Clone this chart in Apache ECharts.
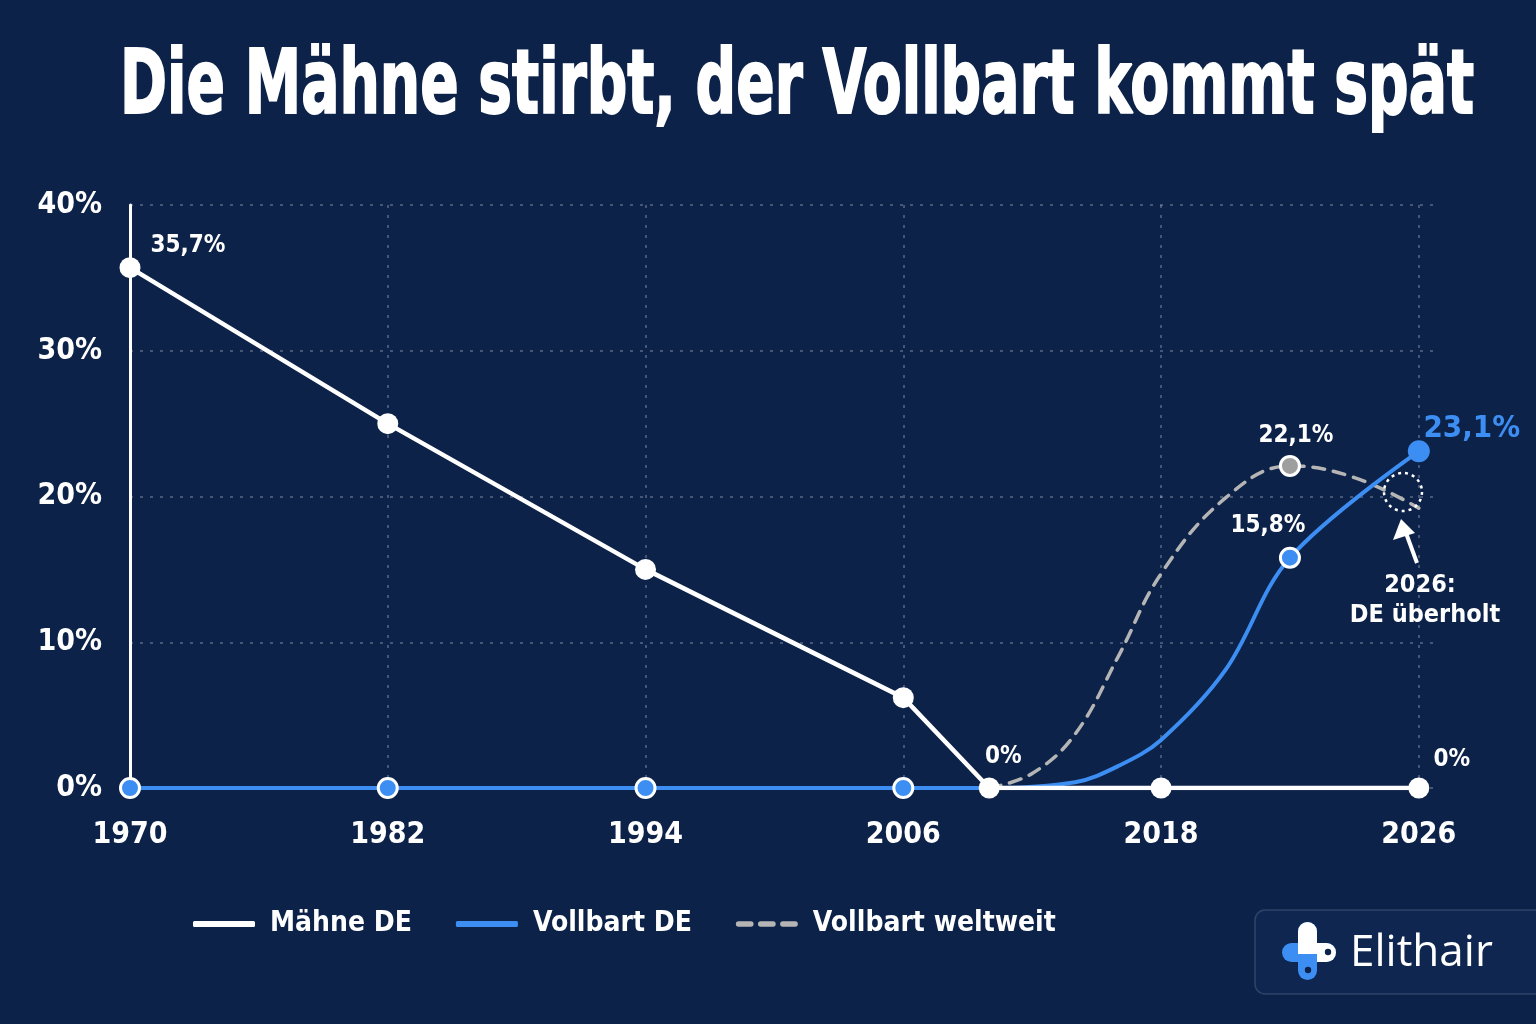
<!DOCTYPE html>
<html><head><meta charset="utf-8">
<script src="https://cdn.jsdelivr.net/npm/echarts@6/dist/echarts.min.js"></script>
<style>html,body{margin:0;padding:0;background:#0c2249;}#c{width:1536px;height:1024px;}</style>
</head><body><div id="c"></div>
<script>
const FONT = '"Liberation Sans Narrow","DejaVu Sans Condensed",sans-serif';
const title = 'Die Mähne stirbt, der Vollbart kommt spät';
const tickYears = [1970, 1982, 1994, 2006, 2018, 2026];
const yTicks = [0, 10, 20, 30, 40];
const seriesNames = ['Mähne DE', 'Vollbart DE', 'Vollbart weltweit'];
const maehneYears = [1970, 1982, 1994, 2006, 2010, 2018, 2026];
const maehneValues = [35.7, 25.0, 15.0, 6.2, 0, 0, 0];
const vollbartYears = [1970, 1982, 1994, 2006, 2010, 2014, 2016, 2018, 2020, 2022, 2026];
const vollbartValues = [0, 0, 0, 0, 0, 0.4, 1.5, 3.3, 8.1, 15.8, 23.1];
const weltYears = [2010, 2012, 2014, 2016, 2018, 2020, 2022, 2024, 2026];
const weltValues = [0, 1.0, 3.7, 9.0, 14.7, 19.9, 22.1, 21.3, 19.2];
const markedVollbart = [1970, 1982, 1994, 2006, 2022, 2026];
const markedWelt = [2022];
const noteText = ['2026:', 'DE überholt'];
const brand = 'Elithair';

// piecewise position of a year on the (evenly spaced) tick scale
function pos(y) {
  for (let i = 0; i < tickYears.length - 1; i++) {
    if (y <= tickYears[i + 1]) return i + (y - tickYears[i]) / (tickYears[i + 1] - tickYears[i]);
  }
  return tickYears.length - 1;
}
function fmt(v) { return (v === 0 ? '0' : v.toFixed(1).replace('.', ',')) + '%'; }

const WHITE = '#ffffff', BLUE = '#3d8ef2', GREY = '#b5b5b5', BG = '#0c2249';
const lblBase = { show: true, position: 'inside', color: WHITE, fontFamily: FONT, fontWeight: 'bold', fontSize: 24 };

function buildMaehne() {
  const labels = { 0: [58, -22], 4: [14, -31], 6: [33, -28] };
  return maehneYears.map((y, i) => {
    const d = { value: [pos(y), maehneValues[i]] };
    if (labels[i]) d.label = Object.assign({}, lblBase, { offset: labels[i], formatter: fmt(maehneValues[i]) });
    return d;
  });
}
function buildVollbart() {
  return vollbartYears.map((y, i) => {
    const d = { value: [pos(y), vollbartValues[i]] };
    if (!markedVollbart.includes(y)) d.symbol = 'none';
    if (y === 2022) d.label = Object.assign({}, lblBase, { offset: [-22, -32], formatter: fmt(vollbartValues[i]) });
    if (y === 2026) {
      d.symbolSize = 22;
      d.itemStyle = { color: BLUE, borderWidth: 0 };
      d.label = Object.assign({}, lblBase, { offset: [53, -22], color: BLUE, fontSize: 31, formatter: fmt(vollbartValues[i]) });
    }
    return d;
  });
}
function buildWelt() {
  return weltYears.map((y, i) => {
    const d = { value: [pos(y), weltValues[i]] };
    if (!markedWelt.includes(y)) d.symbol = 'none';
    else d.label = Object.assign({}, lblBase, { offset: [6, -30], formatter: fmt(weltValues[i]) });
    return d;
  });
}

// fit title to reference width
const titleFont = 'bold 89px ' + FONT;
const cv = document.createElement('canvas').getContext('2d');
cv.font = titleFont;
const titleScale = 1354 / cv.measureText(title).width;

const chart = echarts.init(document.getElementById('c'));
const gridLine = { color: 'rgba(255,255,255,0.24)', type: [3, 7], width: 2 };
const option = {
  backgroundColor: BG,
  animation: false,
  grid: { left: 130, right: 103, top: 205, bottom: 236, containLabel: false },
  xAxis: {
    type: 'value', min: 0, max: 5.055, interval: 1,
    axisLine: { show: false }, axisTick: { show: false },
    axisLabel: { color: WHITE, fontFamily: FONT, fontWeight: 'bold', fontSize: 30, margin: 32,
      showMaxLabel: false,
      formatter: v => (Number.isInteger(v) && tickYears[v] !== undefined) ? String(tickYears[v]) : '' },
    splitLine: { show: false }
  },
  yAxis: {
    type: 'value', min: 0, max: 40, interval: 10,
    axisLine: { show: true, lineStyle: { color: WHITE, width: 3 } }, axisTick: { show: false },
    axisLabel: { color: WHITE, fontFamily: FONT, fontWeight: 'bold', fontSize: 30, margin: 28,
      formatter: v => yTicks.includes(v) ? v + '%' : '' },
    splitLine: { show: true, lineStyle: gridLine }
  },
  legend: {
    left: 188, top: 905, itemGap: 44, itemWidth: 62, itemHeight: 6,
    textStyle: { color: WHITE, fontFamily: FONT, fontWeight: 'bold', fontSize: 28, padding: [0, 0, 0, 10] },
    data: [
      { name: seriesNames[0], icon: 'roundRect', itemStyle: { color: WHITE, borderWidth: 0 } },
      { name: seriesNames[1], icon: 'roundRect', itemStyle: { color: BLUE, borderWidth: 0 } },
      { name: seriesNames[2], icon: 'path://M0,0h14a3,3 0 0 1 0,6h-14a3,3 0 0 1 0,-6z M25,0h14a3,3 0 0 1 0,6h-14a3,3 0 0 1 0,-6z M50,0h14a3,3 0 0 1 0,6h-14a3,3 0 0 1 0,-6z', itemStyle: { color: GREY, borderWidth: 0 } }
    ]
  },
  series: [
    {
      name: seriesNames[2], type: 'line', smooth: 0.4, z: 2,
      lineStyle: { color: GREY, width: 3.5, type: [12, 9], cap: 'round' },
      symbol: 'circle', symbolSize: 19,
      itemStyle: { color: '#9e9e9e', borderColor: WHITE, borderWidth: 3 },
      data: buildWelt(),
      markLine: {
        silent: true, symbol: 'none', label: { show: false }, z: 1,
        lineStyle: gridLine, emphasis: { disabled: true },
        data: tickYears.slice(1).map(y => ({ xAxis: pos(y) }))
      }
    },
    {
      name: seriesNames[1], type: 'line', smooth: 0.35, z: 3,
      lineStyle: { color: BLUE, width: 4 },
      symbol: 'circle', symbolSize: 19,
      itemStyle: { color: BLUE, borderColor: WHITE, borderWidth: 3 },
      data: buildVollbart()
    },
    {
      name: seriesNames[0], type: 'line', smooth: false, z: 4,
      lineStyle: { color: WHITE, width: 4.5 },
      symbol: 'circle', symbolSize: 21,
      itemStyle: { color: WHITE, borderWidth: 0 },
      data: buildMaehne()
    }
  ],
  graphic: [
    { type: 'text', x: 797, y: 90, scaleX: titleScale, z: 10,
      style: { text: title, fill: WHITE, stroke: WHITE, lineWidth: 2, font: titleFont, align: 'center', verticalAlign: 'middle',
        shadowColor: 'rgba(0,0,0,0.45)', shadowBlur: 6, shadowOffsetY: 3 } },
    // logo box
    { type: 'rect', shape: { x: 1255, y: 910, width: 320, height: 84, r: 10 },
      style: { fill: '#0e2650', stroke: 'rgba(255,255,255,0.15)', lineWidth: 1.5 } },
    { type: 'rect', shape: { x: 1282, y: 943, width: 54, height: 19, r: 9.5 }, style: { fill: BLUE } },
    { type: 'rect', shape: { x: 1302, y: 943, width: 34, height: 19, r: 9.5 }, style: { fill: WHITE } },
    { type: 'rect', shape: { x: 1298, y: 922, width: 19, height: 58, r: 9.5 }, style: { fill: BLUE } },
    { type: 'rect', shape: { x: 1298, y: 922, width: 19, height: 32, r: [9.5, 9.5, 0, 0] }, style: { fill: WHITE } },
    { type: 'circle', shape: { cx: 1328, cy: 952, r: 3.2 }, style: { fill: BG } },
    { type: 'circle', shape: { cx: 1308, cy: 970, r: 3.2 }, style: { fill: BG } },
    { type: 'text', x: 1350, y: 953, style: { text: brand, fill: WHITE, font: '44px "Open Sans",sans-serif', verticalAlign: 'middle' } },
    // annotation near crossing
    { type: 'circle', shape: { cx: 1403, cy: 492, r: 19 }, style: { fill: 'none', stroke: WHITE, lineWidth: 2.5, lineDash: [3, 4] }, z: 10 },
    { type: 'line', shape: { x1: 1417, y1: 563, x2: 1406, y2: 533 }, style: { stroke: WHITE, lineWidth: 4 }, z: 10 },
    { type: 'polygon', shape: { points: [[1401, 519], [1393, 540], [1415, 533]] }, style: { fill: WHITE }, z: 10 },
    { type: 'text', x: 1420, y: 585, style: { text: noteText[0], fill: WHITE, font: 'bold 25px ' + FONT, align: 'center', verticalAlign: 'middle' }, z: 10 },
    { type: 'text', x: 1425, y: 615, style: { text: noteText[1], fill: WHITE, font: 'bold 25px ' + FONT, align: 'center', verticalAlign: 'middle' }, z: 10 }
  ]
};
chart.setOption(option);
</script></body></html>
